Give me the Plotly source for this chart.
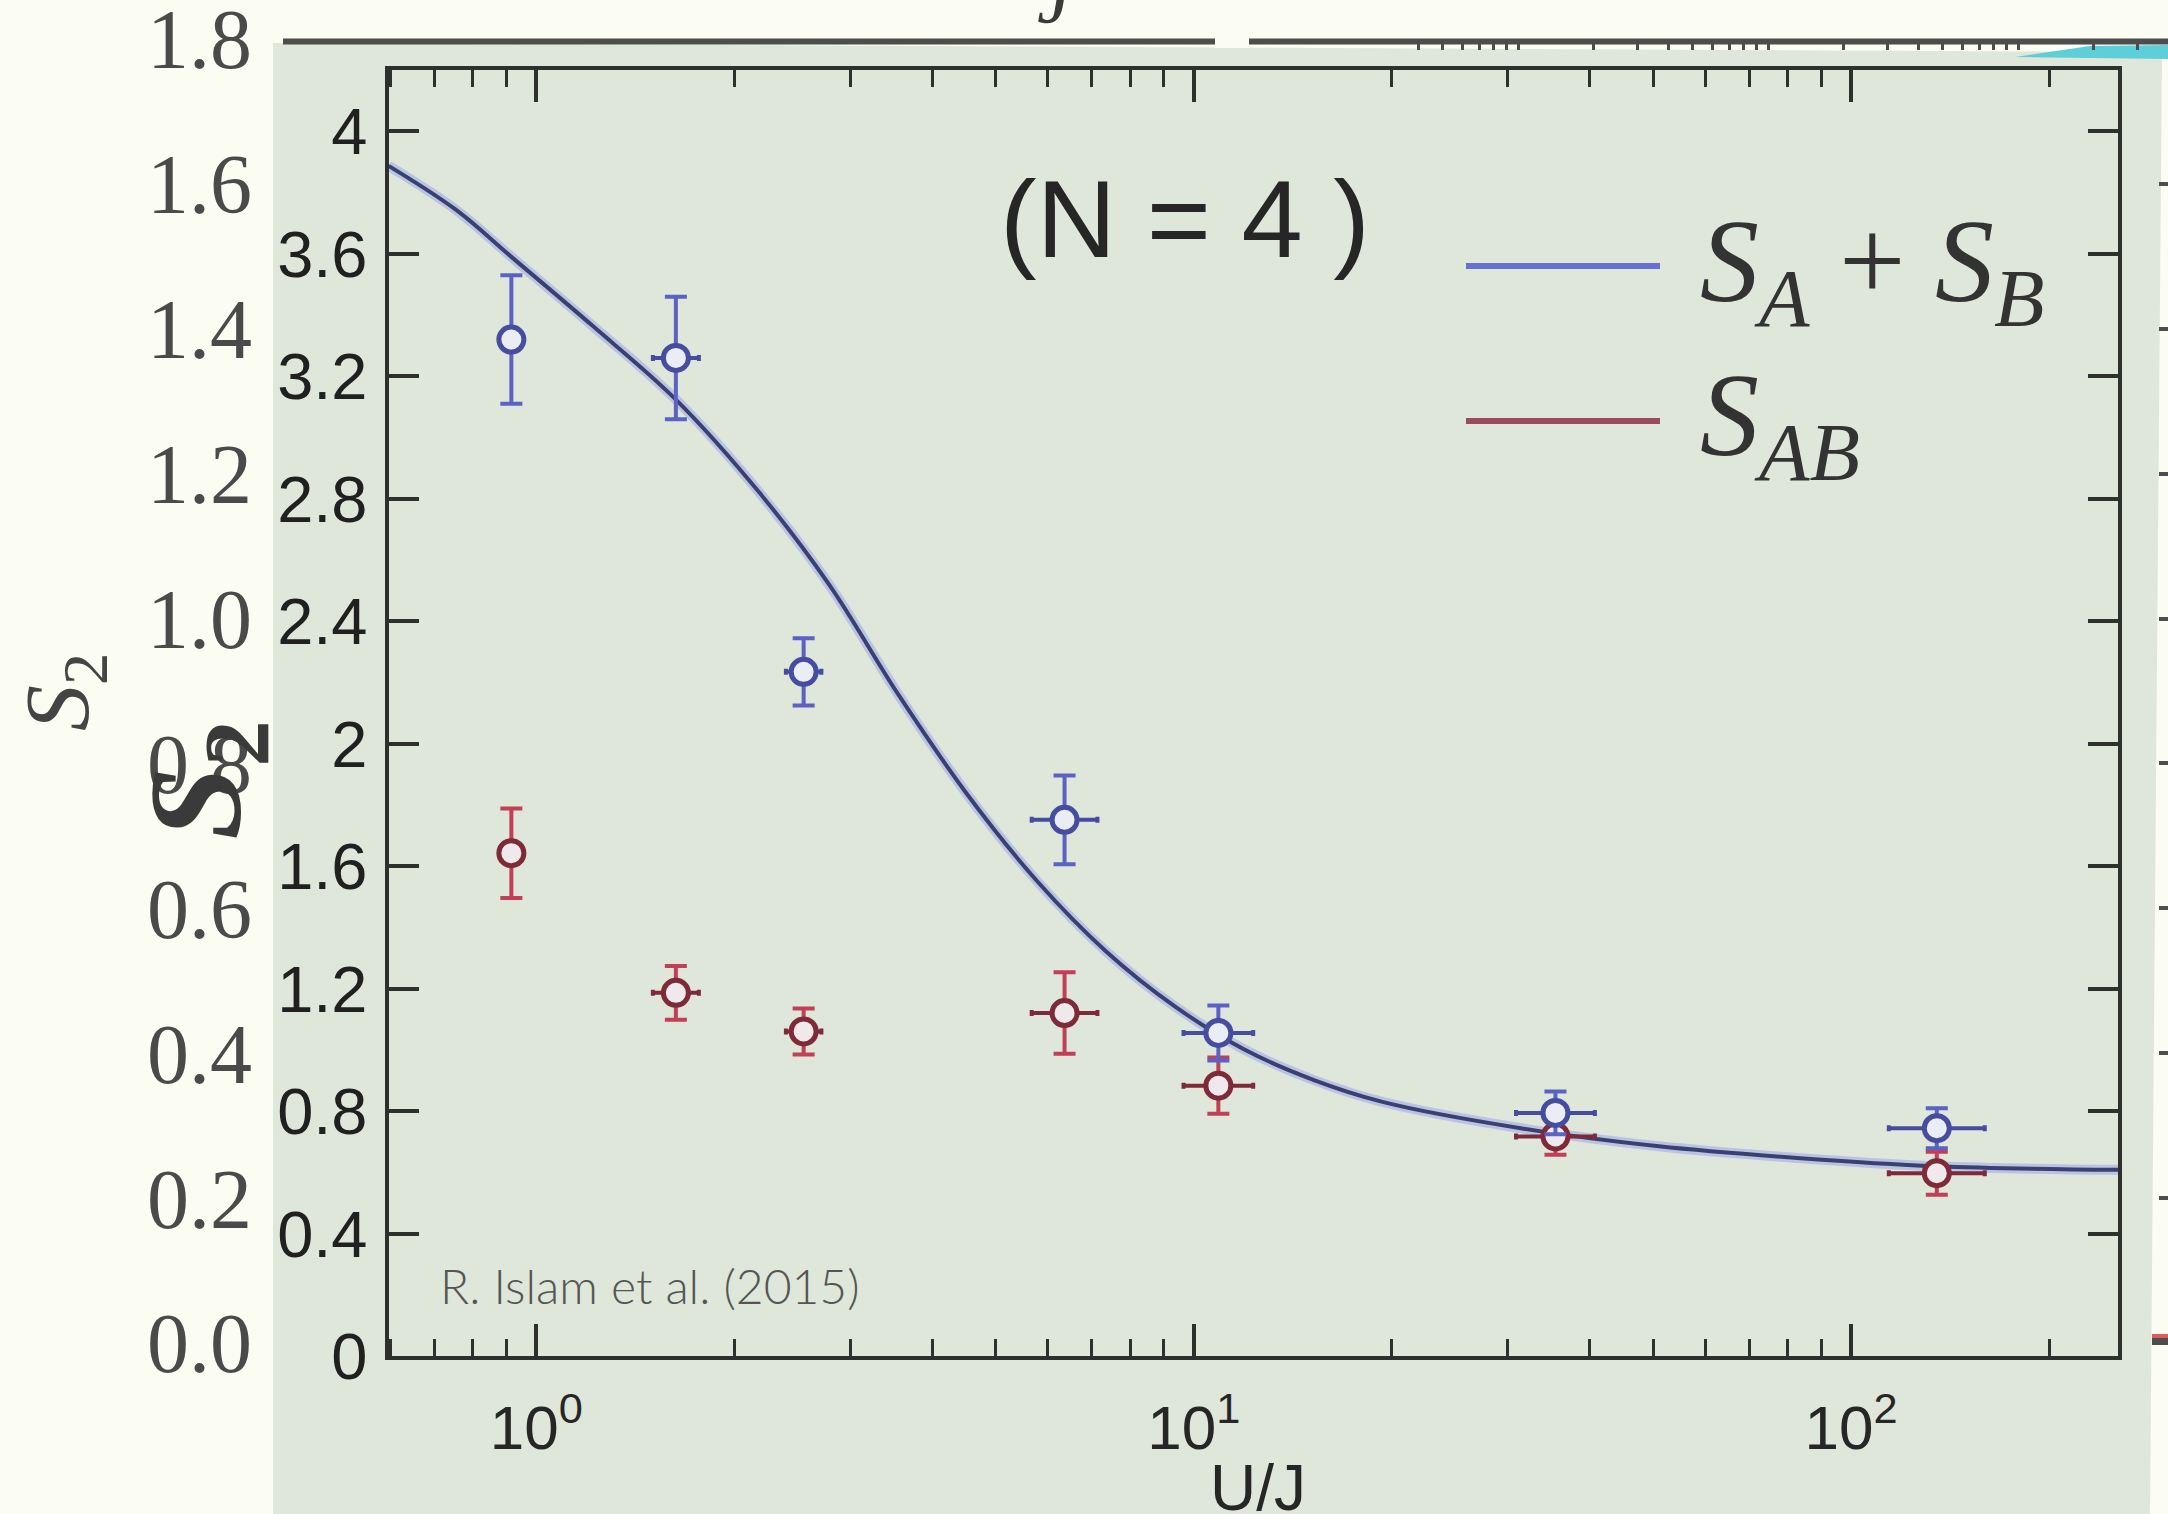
import plotly.graph_objects as go

W, H = 2168, 1514


def px(x):
    return x / W


def py(y):
    return 1 - y / H


# Measured second-order Renyi entropies, N = 4
u_over_j = [0.916, 1.63, 2.55, 6.36, 10.9, 35.5, 135.0]
u_over_j_err_dex = [0.0, 0.035, 0.027, 0.05, 0.053, 0.06, 0.073]
s_a_plus_s_b = [3.32, 3.26, 2.235, 1.752, 1.056, 0.795, 0.745]
s_a_plus_s_b_err = [0.21, 0.20, 0.11, 0.145, 0.09, 0.07, 0.065]
s_ab = [1.643, 1.187, 1.061, 1.121, 0.884, 0.718, 0.598]
s_ab_err = [0.146, 0.088, 0.075, 0.133, 0.092, 0.06, 0.07]

# Theory curve for S_A + S_B
theory_u_over_j = [0.596, 0.755, 0.917, 1.22, 1.63, 2.19, 2.79, 3.56, 4.53, 5.77,
                   7.35, 9.37, 11.94, 15.2, 19.37, 31.44, 51.0, 82.8, 134.4, 255.8]
theory_s = [3.887, 3.743, 3.589, 3.363, 3.124, 2.817, 2.519, 2.158, 1.833, 1.553,
            1.323, 1.142, 1.002, 0.903, 0.831, 0.745, 0.686, 0.648, 0.621, 0.609]

# Axis ticks
outer_s2_ticks = [0.0, 0.2, 0.4, 0.6, 0.8, 1.0, 1.2, 1.4, 1.6, 1.8]
outer_s2_labels = ["0.0", "0.2", "0.4", "0.6", "0.8", "1.0", "1.2", "1.4", "1.6", "1.8"]
inner_s2_ticks = [0, 0.4, 0.8, 1.2, 1.6, 2, 2.4, 2.8, 3.2, 3.6, 4]
inner_s2_labels = ["0", "0.4", "0.8", "1.2", "1.6", "2", "2.4", "2.8", "3.2", "3.6", "4"]
inner_uj_ticks = [1, 10, 100]
inner_uj_labels = ["10<sup>0</sup>", "10<sup>1</sup>", "10<sup>2</sup>"]

CREAM = "#fbfcf2"
PHOTO = "#dfe6da"
BLUE_MK = "#464d9e"
BLUE_ERR = "#5a62c4"
RED_MK = "#7e2a39"
RED_ERR = "#c23f58"
AXIS_DARK = "#2d302d"
OUTER_GREY = "#4d4d4d"

# log-decade minor ticks for the inner U/J axis
inner_minor = [m * 10 ** k for k in (-1, 0, 1, 2) for m in range(2, 10)
               if 0.6 <= m * 10 ** k <= 250]
# ticks of the outer top axis that peek out above the photo
outer_top_ticks = ([m * 1e-1 for m in range(4, 10)] + [m * 1.0 for m in range(1, 10)]
                   + [m * 10.0 for m in range(1, 10)] + [m * 100.0 for m in range(1, 4)])

xerr_plus = [u * (10 ** d - 1) for u, d in zip(u_over_j, u_over_j_err_dex)]
xerr_minus = [u * (1 - 10 ** (-d)) for u, d in zip(u_over_j, u_over_j_err_dex)]

fig = go.Figure()

# keep the outer axes alive
fig.add_trace(go.Scatter(x=[], y=[], xaxis="x", yaxis="y", showlegend=False))
fig.add_trace(go.Scatter(x=[], y=[], xaxis="x", yaxis="y3", showlegend=False))

# theory curve: soft halo + dark core
fig.add_trace(go.Scatter(
    x=theory_u_over_j, y=theory_s, xaxis="x2", yaxis="y2", mode="lines",
    line=dict(color="rgba(120,130,240,0.35)", width=10, shape="spline", smoothing=1.0),
    showlegend=False, hoverinfo="skip"))
fig.add_trace(go.Scatter(
    x=theory_u_over_j, y=theory_s, xaxis="x2", yaxis="y2", mode="lines",
    line=dict(color="#3b4072", width=4, shape="spline", smoothing=1.0),
    name="S_A + S_B", showlegend=False))

fig.add_trace(go.Scatter(
    x=u_over_j, y=s_ab, xaxis="x2", yaxis="y2", mode="markers",
    marker=dict(symbol="circle", size=25, color="#efe9ec",
                line=dict(color=RED_MK, width=5)),
    error_y=dict(type="data", array=s_ab_err, color=RED_ERR, thickness=4, width=11),
    error_x=dict(type="data", array=xerr_plus, arrayminus=xerr_minus,
                 color=RED_MK, thickness=4, width=3),
    name="S_AB", showlegend=False))

fig.add_trace(go.Scatter(
    x=u_over_j, y=s_a_plus_s_b, xaxis="x2", yaxis="y2", mode="markers",
    marker=dict(symbol="circle", size=25, color="#e9edf6",
                line=dict(color=BLUE_MK, width=5)),
    error_y=dict(type="data", array=s_a_plus_s_b_err, color=BLUE_ERR, thickness=4, width=11),
    error_x=dict(type="data", array=xerr_plus, arrayminus=xerr_minus,
                 color=BLUE_MK, thickness=4, width=3),
    name="S_A + S_B data", showlegend=False))

shapes = [
    # photographed figure
    dict(type="path", xref="paper", yref="paper", layer="below",
         path=(f"M {px(273)},{py(43)} L {px(2162)},{py(52)} "
               f"L {px(2150)},{py(1514)} L {px(273)},{py(1514)} Z"),
         fillcolor=PHOTO, line=dict(width=0)),
    # cyan sliver of the slide behind
    dict(type="path", xref="paper", yref="paper", layer="below",
         path=(f"M {px(2015)},{py(57)} L {px(2090)},{py(46)} "
               f"L {px(2168)},{py(45)} L {px(2168)},{py(59)} Z"),
         fillcolor="#5ccfd8", line=dict(width=0)),
    # top frame line of the slide plot
    dict(type="line", xref="paper", yref="paper", layer="below",
         x0=px(283), x1=1.0, y0=py(41.5), y1=py(41.5),
         line=dict(color=OUTER_GREY, width=6)),
    # break in the top frame line
    dict(type="rect", xref="paper", yref="paper", layer="above",
         x0=px(1215), x1=px(1249), y0=py(48), y1=py(33),
         fillcolor=CREAM, line=dict(width=0)),
    # bottom-right frame fragment
    dict(type="rect", xref="paper", yref="paper", layer="above",
         x0=px(2152), x1=px(2168), y0=py(1345), y1=py(1338),
         fillcolor=OUTER_GREY, line=dict(width=0)),
    dict(type="rect", xref="paper", yref="paper", layer="above",
         x0=px(2152), x1=px(2168), y0=py(1338), y1=py(1334),
         fillcolor="#e05a5a", line=dict(width=0)),
    # legend samples
    dict(type="line", xref="paper", yref="paper", x0=px(1466), x1=px(1660),
         y0=py(266), y1=py(266), line=dict(color="#6a70d2", width=6)),
    dict(type="line", xref="paper", yref="paper", x0=px(1466), x1=px(1660),
         y0=py(421), y1=py(421), line=dict(color="#9a4a5c", width=6)),
]

serif = "Liberation Serif"
sans = "Liberation Sans"


def note(text, x, y, font, xanchor="center", yanchor="middle", angle=0):
    return dict(text=text, x=px(x), y=py(y), xref="paper", yref="paper",
                xanchor=xanchor, yanchor=yanchor, textangle=angle,
                showarrow=False, font=font)


annotations = [
    note("(N = 4 )", 1185, 218, dict(family=sans, size=110, color="#262626")),
    note("<i>S</i><sub><i>A</i></sub> + <i>S</i><sub><i>B</i></sub>", 1698, 270,
         dict(family=serif, size=118, color="#333333"), xanchor="left"),
    note("<i>S</i><sub><i>AB</i></sub>", 1698, 424,
         dict(family=serif, size=118, color="#333333"), xanchor="left"),
    note("R. Islam et al. (2015)", 438, 1285,
         dict(family="Lato", size=48, color="#555555", weight=300), xanchor="left"),
    note("U/J", 1258, 1488, dict(family=sans, size=64, color="#262626")),
    note("<i>J</i>", 1056, 41, dict(family=serif, size=78, color="#3a3a3a"),
         yanchor="bottom"),
    note("<i>S</i><sub>2</sub>", 63, 692, dict(family=serif, size=92, color="#444444"),
         angle=-90),
    note("<b><i>S</i><sub>2</sub></b>", 205, 780, dict(family=serif, size=132, color="#3a3a3a"),
         angle=-90),
]

fig.update_layout(
    width=W, height=H,
    margin=dict(l=0, r=0, t=0, b=0),
    paper_bgcolor=CREAM,
    plot_bgcolor="rgba(0,0,0,0)",
    showlegend=False,
    shapes=shapes,
    annotations=annotations,
    # outer slide axes
    xaxis=dict(domain=[px(283), 1.0], anchor="y", type="log", range=[-4.94, 2.6],
               side="top", showline=False,
               ticks="inside", tickmode="array", tickvals=outer_top_ticks,
               ticklen=11, tickwidth=3, tickcolor=OUTER_GREY,
               showticklabels=False, showgrid=False, zeroline=False, automargin=False),
    yaxis=dict(domain=[py(1343), py(39)], anchor="x", range=[0, 1.8001],
               tickmode="array", tickvals=outer_s2_ticks, ticktext=outer_s2_labels,
               ticks="", ticklabelstandoff=30, ticklabeloverflow="allow",
               showline=False, showgrid=False, zeroline=False, automargin=False,
               tickfont=dict(family=serif, size=84, color="#4a4a4a")),
    yaxis3=dict(overlaying="y", side="right", anchor="x", range=[0, 1.8001],
                tickmode="array", tickvals=outer_s2_ticks, ticks="inside",
                ticklen=9, tickwidth=4, tickcolor=OUTER_GREY,
                showticklabels=False, showline=False, showgrid=False,
                zeroline=False, automargin=False),
    # photographed inner axes
    xaxis2=dict(domain=[px(388.5), px(2118)], anchor="y2", type="log",
                range=[-0.225, 2.406], showline=True, mirror="ticks",
                linecolor=AXIS_DARK, linewidth=4, ticks="inside", ticklen=32,
                tickwidth=3.5, tickcolor=AXIS_DARK, tickmode="array",
                tickvals=inner_uj_ticks, ticktext=inner_uj_labels,
                ticklabelstandoff=14,
                minor=dict(ticks="inside", ticklen=17, tickwidth=3, tickcolor=AXIS_DARK,
                           tickmode="array", tickvals=inner_minor, showgrid=False),
                showgrid=False, zeroline=False, automargin=False,
                tickfont=dict(family=sans, size=62, color="#262626")),
    yaxis2=dict(domain=[py(1356.4), py(70)], anchor="x2", range=[0, 4.2],
                showline=True, mirror="ticks", linecolor=AXIS_DARK, linewidth=4,
                ticks="inside", ticklen=30, tickwidth=3.5, tickcolor=AXIS_DARK,
                tickmode="array", tickvals=inner_s2_ticks, ticktext=inner_s2_labels,
                ticklabelstandoff=4, showgrid=False, zeroline=False, automargin=False,
                tickfont=dict(family=sans, size=65, color="#202020")),
)

fig.write_html("out.html")
